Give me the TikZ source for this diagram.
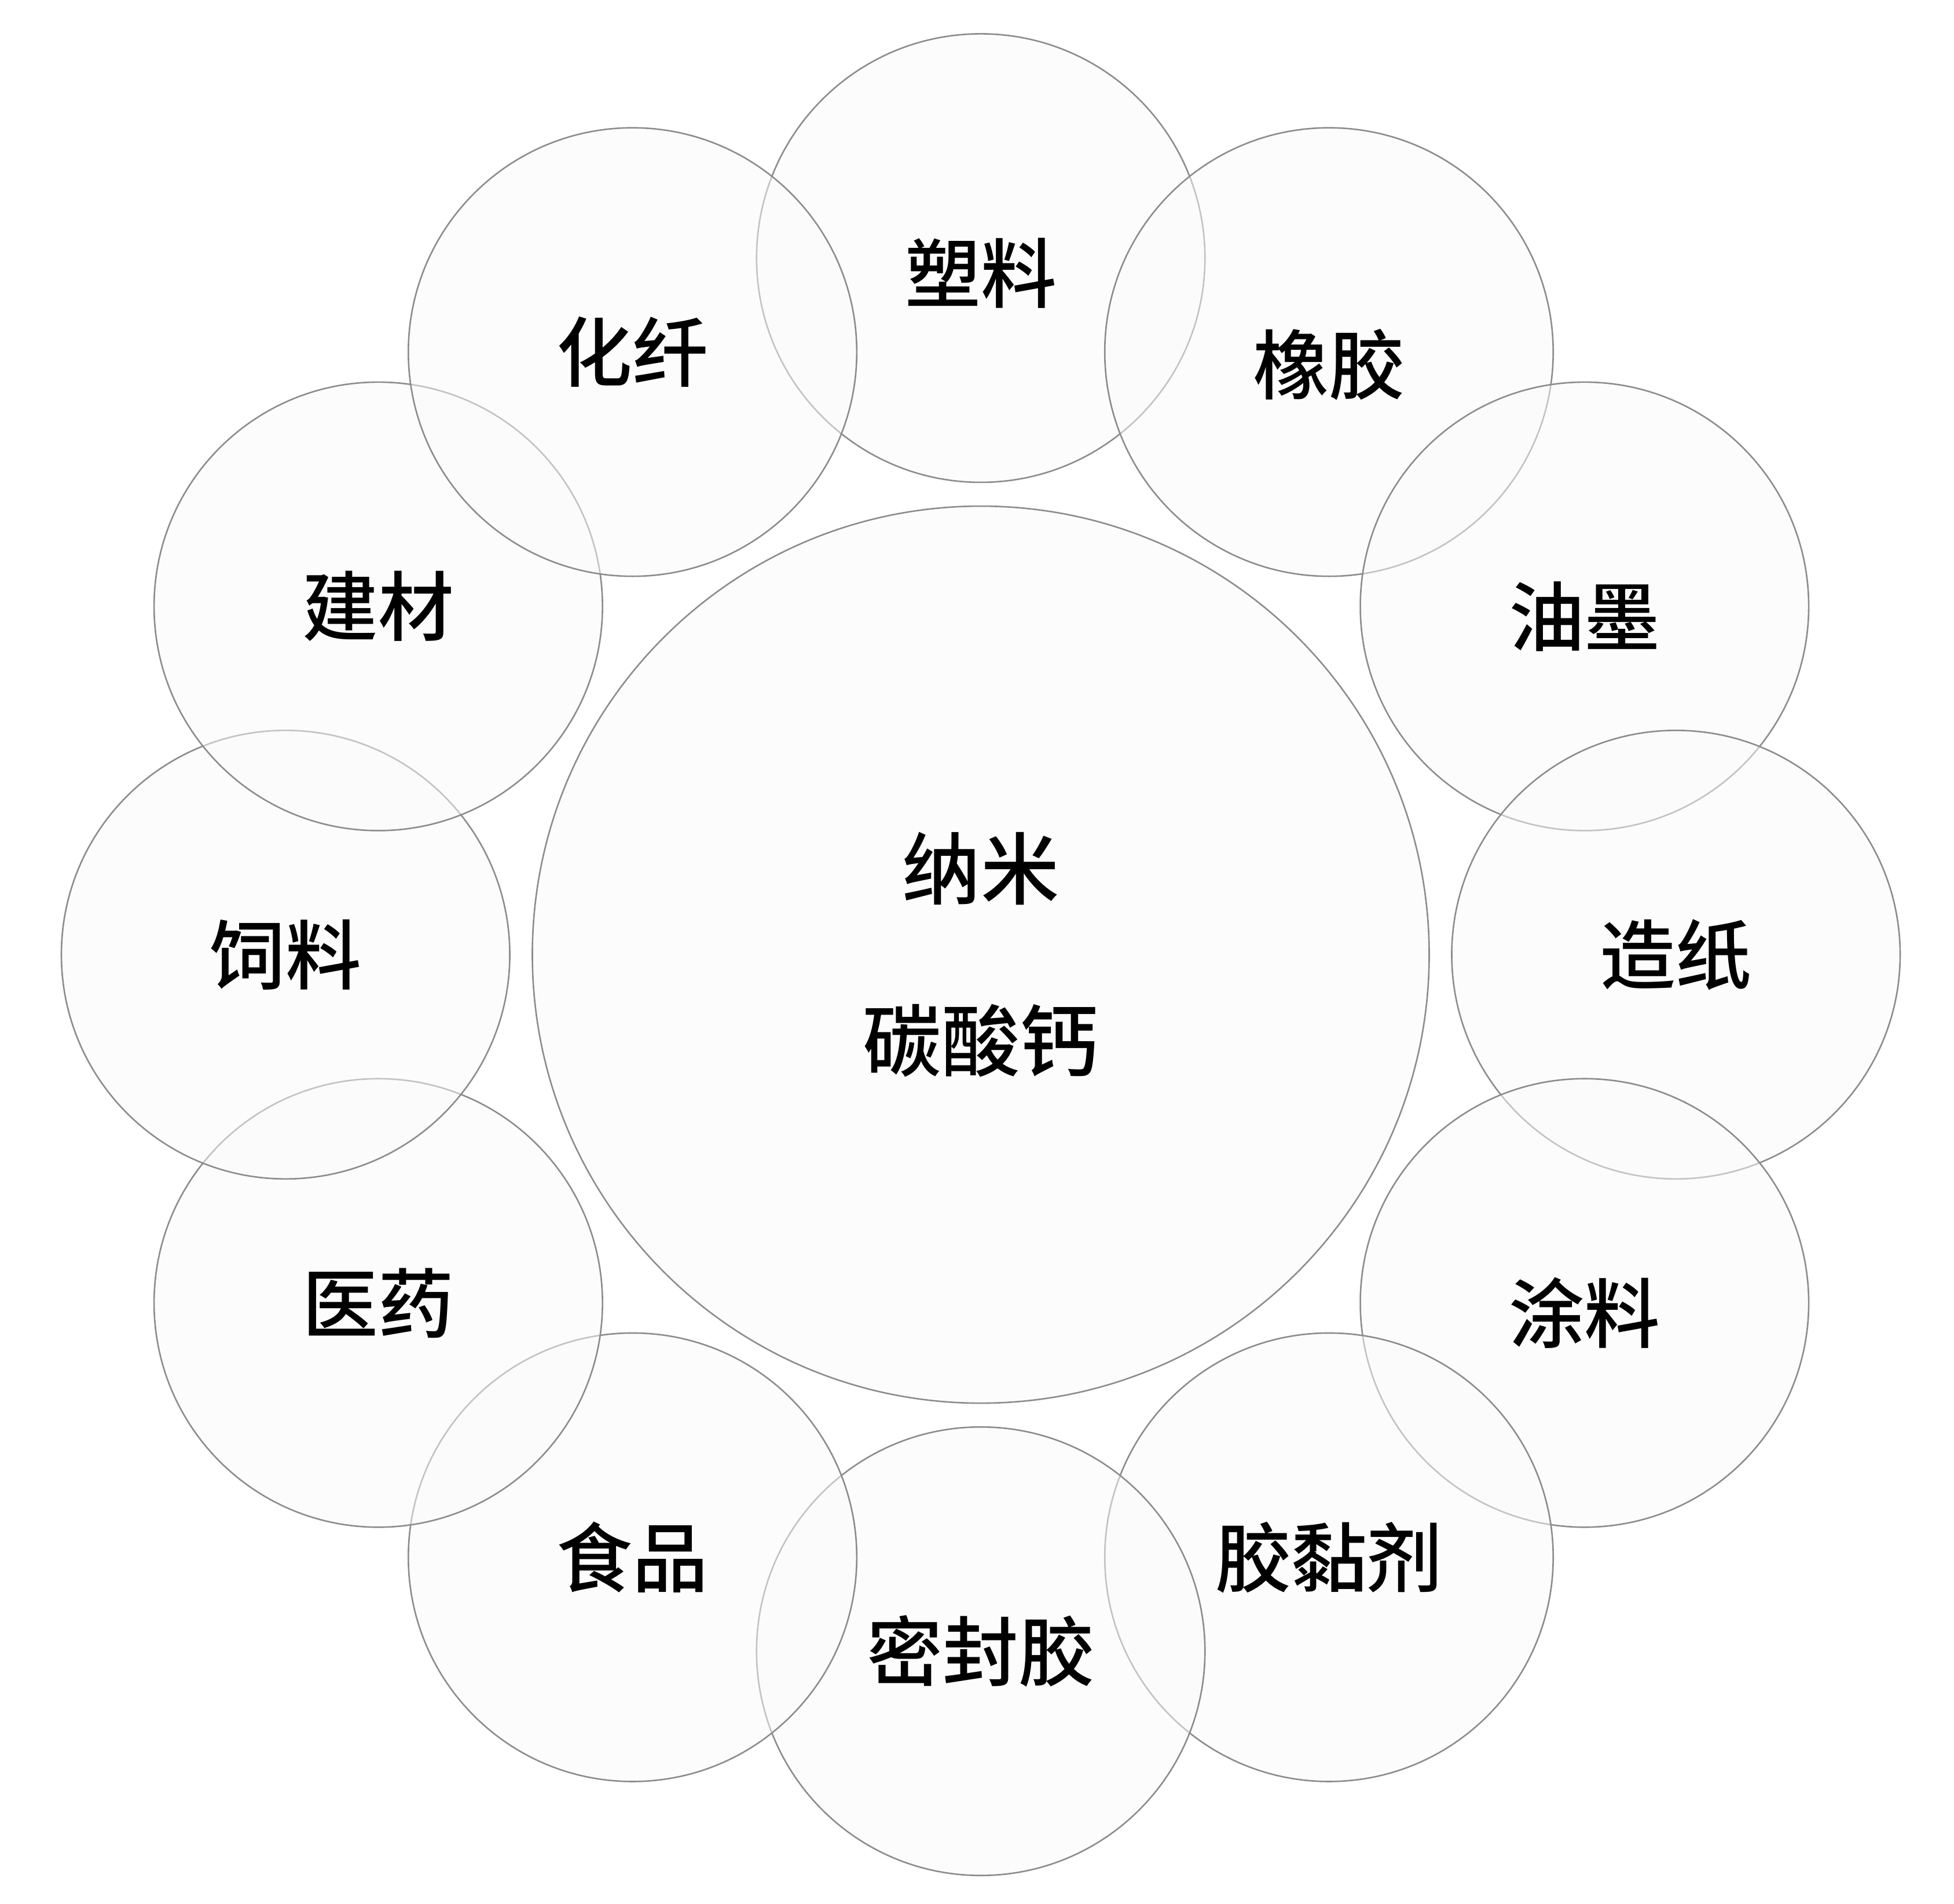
\documentclass[tikz,border=0pt]{standalone}
\usepackage{fontspec}
\newfontfamily\cjk{Noto Sans CJK SC Medium}
\begin{document}
\begin{tikzpicture}[x=1mm,y=-1mm,
  ring/.style={circle,draw=black!45,line width=1.2mm,fill=black!2,fill opacity=0.5,text opacity=1,minimum size=358mm,inner sep=0pt,font=\cjk\fontsize{172}{200}\selectfont},
  hub/.style={ring,minimum size=716mm,align=center,font=\cjk\fontsize{178}{390}\selectfont}]
\useasboundingbox (0,0) rectangle (1560,1519.4);
\node[hub] (c) at (783,762) {纳米\\碳酸钙};
\node[ring] (a1) at (783,206) {};
\node[ring] (a2) at (1061,281) {};
\node[ring] (a3) at (1265,484) {};
\node[ring] (a4) at (1338,762) {};
\node[ring] (a5) at (1265,1040) {};
\node[ring] (a6) at (1061,1243) {};
\node[ring] (a7) at (783,1318) {};
\node[ring] (a8) at (505,1243) {};
\node[ring] (a9) at (302,1040) {};
\node[ring] (a10) at (228,762) {};
\node[ring] (a11) at (302,484) {};
\node[ring] (a12) at (505,281) {};
\tikzset{lab/.style={font=\cjk\fontsize{172}{200}\selectfont,inner sep=0pt}}
\node[lab] (t1) at ([yshift=-12mm]a1.center) {塑料};
\node[lab] (t2) at ([yshift=-10mm]a2.center) {橡胶};
\node[lab] (t3) at ([yshift=-8mm]a3.center) {油墨};
\node[lab] (t4) at (a4.center) {造纸};
\node[lab] (t5) at ([yshift=-8mm]a5.center) {涂料};
\node[lab] (t6) at (a6.center) {胶黏剂};
\node[lab] (t7) at (a7.center) {密封胶};
\node[lab] (t8) at (a8.center) {食品};
\node[lab] (t9) at (a9.center) {医药};
\node[lab] (t10) at (a10.center) {饲料};
\node[lab] (t11) at (a11.center) {建材};
\node[lab] (t12) at (a12.center) {化纤};
\end{tikzpicture}
\end{document}
